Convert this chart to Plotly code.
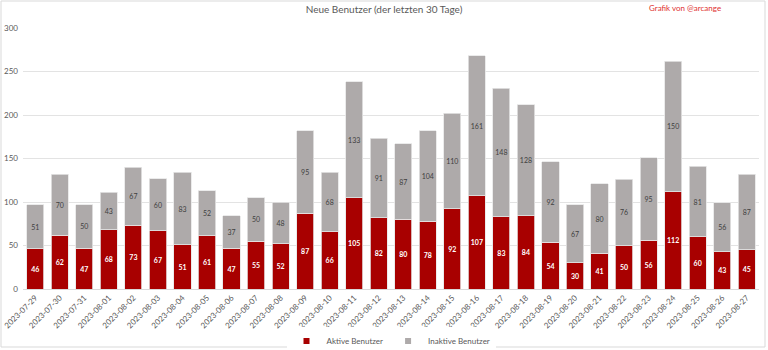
import plotly.graph_objects as go

dates = ["2023-07-29","2023-07-30","2023-07-31","2023-08-01","2023-08-02","2023-08-03","2023-08-04",
         "2023-08-05","2023-08-06","2023-08-07","2023-08-08","2023-08-09","2023-08-10","2023-08-11",
         "2023-08-12","2023-08-13","2023-08-14","2023-08-15","2023-08-16","2023-08-17","2023-08-18",
         "2023-08-19","2023-08-20","2023-08-21","2023-08-22","2023-08-23","2023-08-24","2023-08-25",
         "2023-08-26","2023-08-27"]
aktive = [46,62,47,68,73,67,51,61,47,55,52,87,66,105,82,80,78,92,107,83,84,54,30,41,50,56,112,60,43,45]
inaktive = [51,70,50,43,67,60,83,52,37,50,48,95,68,133,91,87,104,110,161,148,128,92,67,80,76,95,150,81,56,87]

W, H = 768, 350
ml, mr, mt, mb = 23, 9, 28, 61
pw, ph = W - ml - mr, H - mt - mb
FONT = "Lato"
RED = "#a80000"
GREY = "#aeaaaa"

fig = go.Figure()
fig.add_trace(go.Bar(
    x=dates, y=aktive, name="Aktive Benutzer", showlegend=False,
    marker=dict(color=RED, line=dict(color="#e6e6e6", width=0.8)),
    text=aktive, textposition="inside", insidetextanchor="middle", textangle=0,
    textfont=dict(color="white", size=7, family=FONT, weight="bold"),
))
fig.add_trace(go.Bar(
    x=dates, y=inaktive, name="Inaktive Benutzer", showlegend=False,
    marker=dict(color=GREY, line=dict(color="#e6e6e6", width=0.8)),
    text=inaktive, textposition="inside", insidetextanchor="middle", textangle=0,
    textfont=dict(color="#404040", size=7, family=FONT),
))
for nm, col in [("Aktive Benutzer", RED), ("Inaktive Benutzer", GREY)]:
    fig.add_trace(go.Scatter(x=[None], y=[None], mode="markers", name=nm,
                             marker=dict(symbol="square", size=6, color=col)))

fig.update_layout(
    width=W, height=H,
    margin=dict(l=ml, r=mr, t=mt, b=mb, autoexpand=False),
    barmode="stack", bargap=0.3,
    plot_bgcolor="white", paper_bgcolor="white",
    font=dict(family=FONT, color="#595959", size=8),
    title=dict(text="Neue Benutzer (der letzten 30 Tage)", x=0.5, xanchor="center",
               xref="container", y=1 - 9 / H, yref="container", yanchor="middle",
               font=dict(size=10, color="#595959", family=FONT)),
    xaxis=dict(type="category", tickangle=-45, tickfont=dict(size=8, color="#595959"),
               showgrid=False, showline=True, linecolor="#d9d9d9", ticks="", automargin=False),
    yaxis=dict(range=[0, 300], dtick=50, showgrid=True, gridcolor="#e3e3e3", gridwidth=1,
               zeroline=False, tickfont=dict(size=8, color="#595959"), ticks="",
               ticklabelstandoff=4, automargin=False),
    legend=dict(orientation="h", x=0.5, xanchor="center", y=(289 - 341) / ph, yanchor="middle",
                font=dict(size=8, color="#595959"), itemwidth=30, tracegroupgap=0,
                traceorder="normal", itemclick=False),
    uniformtext=dict(minsize=7, mode="show"),
    annotations=[dict(text="Grafik von @arcange", xref="paper", yref="paper",
                      x=(685 - ml) / pw, y=1 + (mt - 8) / ph, xanchor="center", yanchor="middle",
                      showarrow=False, font=dict(size=8, color="#e03030", family=FONT))],
    shapes=[dict(type="rect", xref="paper", yref="paper",
                 x0=(1 - ml) / pw, x1=(W - 3 - ml) / pw,
                 y0=-(H - 3 - mt - ph) / ph, y1=1 + (mt - 1) / ph,
                 line=dict(color="#d9d9d9", width=1), layer="below")],
)

fig.write_html("out.html")
